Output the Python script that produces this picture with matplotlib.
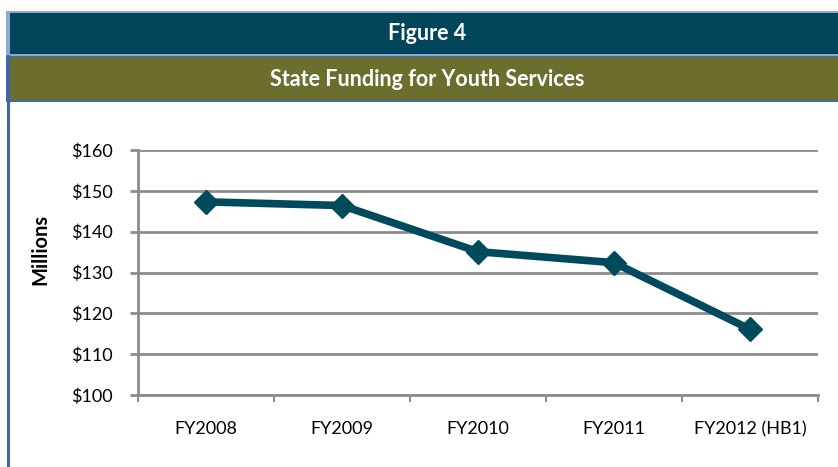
import matplotlib
matplotlib.use("Agg")
import matplotlib.pyplot as plt
from matplotlib.patches import Rectangle
from matplotlib.lines import Line2D
from matplotlib.ticker import FuncFormatter

# data
years = ["FY2008", "FY2009", "FY2010", "FY2011", "FY2012 (HB1)"]
funding = [147.3, 146.4, 135.1, 132.4, 116.1]
y_ticks = [100, 110, 120, 130, 140, 150, 160]

teal = "#00455A"
olive = "#6B6E2D"
line_col = "#004A5E"
grid_col = "#8C8C8C"
light_blue = "#8EA9D4"
dark_blue = "#3E68A8"

plt.rcParams["font.family"] = ["Lato", "DejaVu Sans"]

W, H = 838, 467
fig = plt.figure(figsize=(W / 100, H / 100), dpi=100)


def fx(px):
    return px / W


def fy(py):
    return 1 - py / H


# header bands
fig.patches.append(Rectangle((fx(6), fy(56)), 1, fy(11) - fy(56), transform=fig.transFigure,
                             facecolor=light_blue, edgecolor="none"))
fig.patches.append(Rectangle((fx(8), fy(54)), 1, fy(13) - fy(54), transform=fig.transFigure,
                             facecolor=teal, edgecolor="none"))
fig.patches.append(Rectangle((fx(6), fy(102)), 1, fy(56) - fy(102), transform=fig.transFigure,
                             facecolor=dark_blue, edgecolor="none"))
fig.patches.append(Rectangle((fx(8), fy(100)), 1, fy(57) - fy(100), transform=fig.transFigure,
                             facecolor=olive, edgecolor="none"))
# left border
fig.lines.append(Line2D([fx(7.5), fx(7.5)], [fy(12), fy(56)], transform=fig.transFigure,
                        color=light_blue, lw=2.2))
fig.lines.append(Line2D([fx(7.5), fx(7.5)], [fy(56), 0], transform=fig.transFigure,
                        color=dark_blue, lw=2.2))

fig.text(fx(427), fy(34), "Figure 4", color="white", fontsize=15.5, fontweight="bold",
         ha="center", va="center")
fig.text(fx(427), fy(79), "State Funding for Youth Services", color="white", fontsize=15.5,
         fontweight="bold", ha="center", va="center")

ax = fig.add_axes([fx(138), fy(395), fx(818) - fx(138), fy(150) - fy(395)])
x = range(len(years))
ax.plot(x, funding, color=line_col, lw=5.5, marker="D", markersize=12.5,
        markerfacecolor=line_col, markeredgecolor=line_col, solid_joinstyle="miter", zorder=3)

ax.set_xlim(-0.5, len(years) - 0.5)
ax.set_ylim(100, 160)
ax.set_yticks(y_ticks)
ax.yaxis.set_major_formatter(FuncFormatter(lambda v, p: f"${v:.0f}"))
ax.set_xticks(list(x))
ax.set_xticklabels(years)
ax.set_xticks([i - 0.5 for i in range(len(years) + 1)], minor=True)
ax.grid(axis="y", color=grid_col, lw=2)
ax.set_axisbelow(True)

for s in ["top", "right"]:
    ax.spines[s].set_visible(False)
ax.spines["left"].set_color(grid_col)
ax.spines["left"].set_linewidth(2)
ax.spines["bottom"].set_color(grid_col)
ax.spines["bottom"].set_linewidth(2)

ax.tick_params(axis="x", which="major", length=0, pad=19, labelsize=13)
ax.tick_params(axis="x", which="minor", length=5, width=1.5, color=grid_col)
ax.tick_params(axis="y", length=6, width=2, color=grid_col, labelsize=13, pad=12)

fig.text(fx(40), fy(249), "Millions", rotation=90, fontsize=14.5, fontweight="bold",
         ha="center", va="center")

fig.savefig("out.png", dpi=100)
